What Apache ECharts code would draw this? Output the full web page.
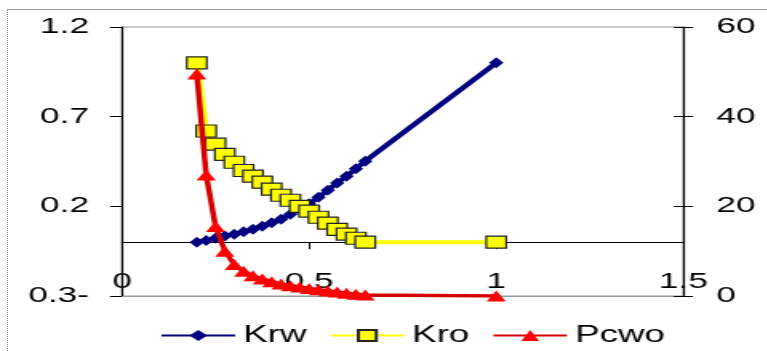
<!DOCTYPE html>
<html>
<head>
<meta charset="utf-8">
<script src="https://cdn.jsdelivr.net/npm/echarts@6/dist/echarts.min.js"></script>
<style>
  html, body { margin: 0; padding: 0; background: #fff; }
  #frame { position: absolute; left: 0; top: 0; width: 767px; height: 351px; background: #fff; overflow: hidden; }
  #edge { position: absolute; left: 7px; top: 9px; right: 0; bottom: 0; border-top: 1px solid #a0a0a0; border-left: 1px dotted #9a9a9a; }
  /* the chart is laid out narrow and widened horizontally */
  #chart { position: absolute; left: 0; top: 0; width: 479.375px; height: 351px; transform: scaleX(1.6); transform-origin: 0 0; }
</style>
</head>
<body>
<div id="frame">
  <div id="edge"></div>
  <div id="chart"></div>
</div>
<script>
// Water saturation steps
const sw = [0.2, 0.225, 0.25, 0.275, 0.3, 0.325, 0.35, 0.375, 0.4, 0.425, 0.45,
            0.475, 0.5, 0.525, 0.55, 0.575, 0.6, 0.625, 0.65, 1.0];
// Relative permeability to water
const krw = [0, 0.01, 0.022, 0.034, 0.045, 0.058, 0.072, 0.089, 0.109, 0.128, 0.156,
             0.184, 0.215, 0.25, 0.29, 0.33, 0.368, 0.41, 0.452, 1.0];
// Relative permeability to oil
const kro = [1.0, 0.62, 0.547, 0.49, 0.446, 0.40, 0.368, 0.335, 0.296, 0.262, 0.234,
             0.2, 0.173, 0.139, 0.106, 0.072, 0.045, 0.022, 0, 0];
// Water-oil capillary pressure
const pcwo = [49.5, 27, 15.5, 10, 7, 5.5, 4.5, 3.8, 3.2, 2.7, 2.3,
              2.0, 1.7, 1.4, 1.1, 0.9, 0.6, 0.4, 0.2, 0];

const xTicks = [0, 0.5, 1, 1.5];
const leftTicks = [-0.3, 0.2, 0.7, 1.2];
const rightTicks = [0, 20, 40, 60];

const pairs = (xs, ys) => xs.map((x, i) => [x, ys[i]]);
const FONT = 'Liberation Sans';

const chart = echarts.init(document.getElementById('chart'), null, { renderer: 'canvas' });

chart.setOption({
  animation: false,
  backgroundColor: 'transparent',
  textStyle: { fontFamily: FONT },
  grid: {
    left: 76.25, right: 51.875, top: 27, bottom: 55,
    show: true, borderColor: '#9a9a9a', borderWidth: 1, backgroundColor: 'transparent'
  },
  legend: {
    left: 95, top: 319,
    itemWidth: 46, itemHeight: 14, itemGap: 14,
    textStyle: { fontFamily: FONT, fontSize: 23, color: '#000' },
    data: ['Krw', 'Kro', 'Pcwo']
  },
  xAxis: [
    {
      // axis line through zero of the left scale
      type: 'value', min: xTicks[0], max: xTicks[xTicks.length - 1], interval: 0.5,
      position: 'bottom',
      axisLine: { show: true, onZero: true, onZeroAxisIndex: 0, lineStyle: { color: '#000', width: 1 } },
      axisTick: { show: true, length: 7, lineStyle: { color: '#000', width: 1 } },
      axisLabel: { show: false },
      splitLine: { show: false }
    },
    {
      // tick labels sitting along the bottom edge
      type: 'value', min: xTicks[0], max: xTicks[xTicks.length - 1], interval: 0.5,
      position: 'bottom',
      axisLine: { show: true, onZero: false, lineStyle: { color: '#9a9a9a', width: 1 } },
      axisTick: { show: false },
      axisLabel: {
        show: true, margin: -25, fontFamily: FONT, fontSize: 22, color: '#000',
        showMinLabel: true, showMaxLabel: true,
        formatter: v => String(+v.toFixed(1))
      },
      splitLine: { show: false }
    }
  ],
  yAxis: [
    {
      type: 'value', position: 'left',
      min: leftTicks[0], max: leftTicks[leftTicks.length - 1], interval: 0.5,
      axisLine: { show: true, onZero: false, lineStyle: { color: '#000', width: 1.2 } },
      axisTick: { show: true, length: 7.5, lineStyle: { color: '#000', width: 1 } },
      axisLabel: {
        margin: 20.6, fontFamily: FONT, fontSize: 22, color: '#000',
        formatter: v => v < -1e-9 ? (-v).toFixed(1) + '-' : (+v).toFixed(1)
      },
      splitLine: { show: false }
    },
    {
      type: 'value', position: 'right',
      min: rightTicks[0], max: rightTicks[rightTicks.length - 1], interval: 20,
      axisLine: { show: true, onZero: false, lineStyle: { color: '#000', width: 1.2 } },
      axisTick: { show: true, length: 6, lineStyle: { color: '#000', width: 1 } },
      axisLabel: { margin: 20.6, fontFamily: FONT, fontSize: 22, color: '#000' },
      splitLine: { show: false }
    },
    {
      // inner half of the crossing ticks on the right scale
      type: 'value', position: 'right',
      min: rightTicks[0], max: rightTicks[rightTicks.length - 1], interval: 20,
      axisLine: { show: false, onZero: false },
      axisTick: { show: true, inside: true, length: 6, lineStyle: { color: '#000', width: 1 } },
      axisLabel: { show: false },
      splitLine: { show: false }
    }
  ],
  series: [
    {
      name: 'Krw', type: 'line', xAxisIndex: 0, yAxisIndex: 0,
      data: pairs(sw, krw),
      symbol: 'diamond', symbolSize: [9, 11],
      itemStyle: { color: '#000080' },
      lineStyle: { color: '#000080', width: 4 },
      z: 2
    },
    {
      name: 'Kro', type: 'line', xAxisIndex: 0, yAxisIndex: 0,
      data: pairs(sw, kro),
      symbol: 'rect', symbolSize: [12.5, 12],
      itemStyle: { color: '#FFFF00', borderColor: '#222', borderWidth: 1.2 },
      lineStyle: { color: '#FFFF00', width: 4 },
      z: 3
    },
    {
      name: 'Pcwo', type: 'line', xAxisIndex: 0, yAxisIndex: 1,
      data: pairs(sw, pcwo),
      symbol: 'triangle', symbolSize: [12, 11],
      itemStyle: { color: '#FF0000' },
      lineStyle: { color: '#D40000', width: 3.5 },
      z: 4
    }
  ]
});
</script>
</body>
</html>
